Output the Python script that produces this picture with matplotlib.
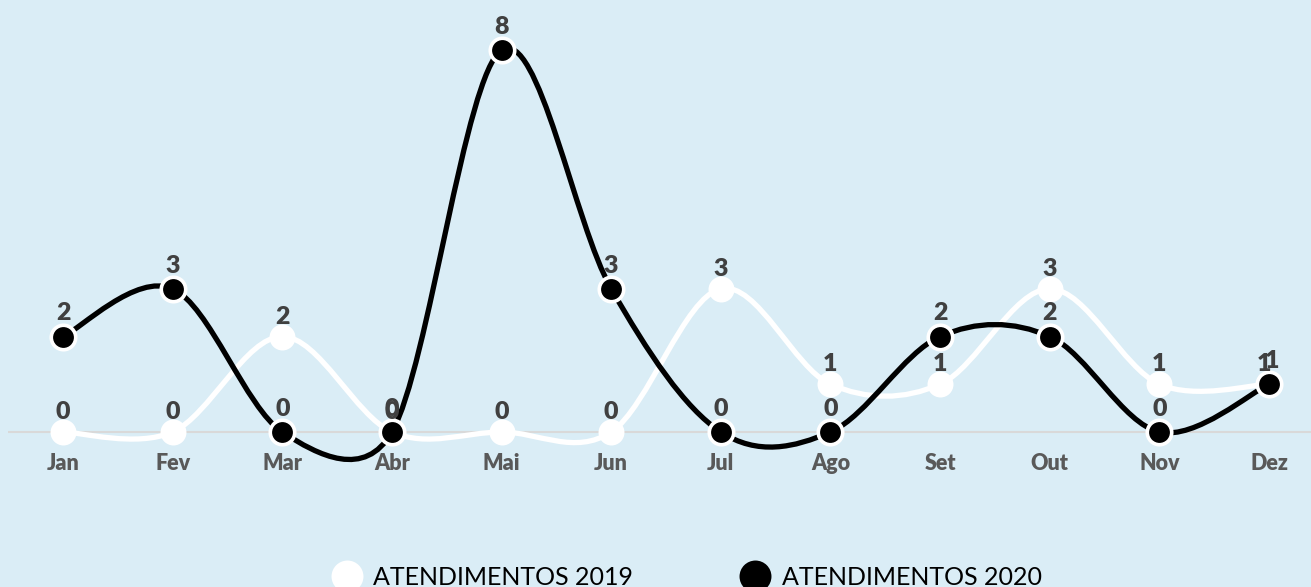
#Line chart of monthly attendances 2019 vs 2020, Excel-like smoothed lines.
#Smoothing follows the Excel bezier rule (1/6 tangents, capped at half segment).

import numpy as np
import matplotlib.pyplot as plt
from matplotlib.path import Path
from matplotlib.patches import PathPatch
from matplotlib.lines import Line2D

months = ['Jan', 'Fev', 'Mar', 'Abr', 'Mai', 'Jun', 'Jul', 'Ago', 'Set', 'Out', 'Nov', 'Dez']
atend_2019 = [0, 0, 2, 0, 0, 0, 3, 1, 1, 3, 1, 1]
atend_2020 = [2, 3, 0, 0, 8, 3, 0, 0, 2, 2, 0, 1]
legend_labels = ['ATENDIMENTOS 2019', 'ATENDIMENTOS 2020']

W, H = 1311, 587
PX_X = 109.64   # pixels per month
PX_Y = 47.75    # pixels per unit
X0, Y0 = 63, 432  # pixel position of (Jan, 0), from top-left

BG = '#DAEDF6'
LABEL_C = '#404040'
TICK_C = '#595959'


def excel_smooth(xs, ys):
    pts = np.column_stack([xs, ys]).astype(float)
    scale = np.array([PX_X, PX_Y])
    n = len(pts)
    verts = [pts[0]]
    codes = [Path.MOVETO]
    for i in range(n - 1):
        p0 = pts[max(i - 1, 0)]
        p1 = pts[i]
        p2 = pts[i + 1]
        p3 = pts[min(i + 2, n - 1)]
        d02 = np.linalg.norm((p2 - p0) * scale)
        d12 = np.linalg.norm((p2 - p1) * scale)
        d13 = np.linalg.norm((p3 - p1) * scale)
        f1 = f2 = 1.0 / 6
        if d02 / 6 >= d12 / 2:
            f1 = d12 / (2 * d02)
        if d13 / 6 >= d12 / 2:
            f2 = d12 / (2 * d13)
        verts += [p1 + (p2 - p0) * f1, p2 - (p3 - p1) * f2, p2]
        codes += [Path.CURVE4] * 3
    return Path(verts, codes)


plt.rcParams['font.family'] = ['Lato', 'DejaVu Sans']

fig = plt.figure(figsize=(W / 100, H / 100), dpi=100)
fig.patch.set_facecolor(BG)
ax = fig.add_axes([0, 0, 1, 1])
ax.set_facecolor(BG)
ax.set_xlim(-X0 / PX_X, (W - X0) / PX_X)
ax.set_ylim((Y0 - H) / PX_Y, Y0 / PX_Y)
ax.axis('off')

x = np.arange(len(months))

# category axis line
ax.hlines(0, -0.5, (W - X0) / PX_X, color='#D9D9D9', lw=1.5, zorder=1)

series = [
    (atend_2019, 'white', None, 13, 2),
    (atend_2020, 'black', 'white', 16, 3),
]
for vals, col, edge, lab_off, z in series:
    ax.add_patch(PathPatch(excel_smooth(x, vals), fill=False, edgecolor=col,
                           lw=3.8, capstyle='round', joinstyle='round', zorder=z))
for vals, col, edge, lab_off, z in series:
    if edge is None:
        ax.plot(x, vals, 'o', ms=18.7, color=col, mew=0, zorder=5)
    else:
        ax.plot(x, vals, 'o', ms=17.6, mfc=col, mec=edge, mew=2.6, zorder=6)

# data labels
nudge = {(0, 11): -5, (1, 11): 3}
for k, (vals, col, edge, lab_off, z) in enumerate(series):
    for i, v in enumerate(vals):
        ax.annotate(str(v), (i, v), xytext=(nudge.get((k, i), 0), lab_off),
                    textcoords='offset pixels', ha='center', va='baseline',
                    fontsize=18, fontweight='heavy', color=LABEL_C, zorder=10)

# month labels
for i, m in enumerate(months):
    ax.annotate(m, (i, 0), xytext=(0, -32), textcoords='offset pixels',
                ha='center', va='center', fontsize=15.5, fontweight='heavy',
                color=TICK_C)

handles = [
    Line2D([], [], ls='', marker='o', ms=23, color='white', mew=0),
    Line2D([], [], ls='', marker='o', ms=23, color='black', mew=0),
]
ax.legend(handles, legend_labels, ncol=2, frameon=False, loc='lower left',
          bbox_to_anchor=(334 / W, -0.003), fontsize=18, handlelength=1.0,
          handletextpad=0.55, columnspacing=4.4, borderpad=0, borderaxespad=0)

plt.savefig('out.png', dpi=100, facecolor=BG)
